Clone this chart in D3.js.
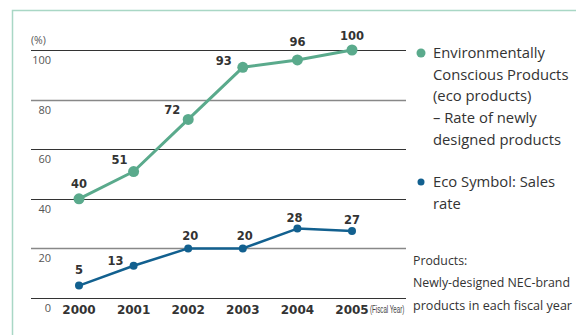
<!DOCTYPE html>
<html><head><meta charset="utf-8">
<script src="https://cdn.jsdelivr.net/npm/d3@7/dist/d3.min.js"></script>
<style>body{margin:0;background:#fff}svg{display:block}</style>
</head><body>
<svg id="c" width="576" height="335"></svg>
<script>
const years = ["2000","2001","2002","2003","2004","2005"];
const ecoProducts = [40,51,72,93,96,100];
const ecoSymbol = [5,13,20,20,28,27];
const yTicks = [0,20,40,60,80,100];
const legendEco = ["Environmentally","Conscious Products","(eco products)","\u2013 Rate of newly","designed products"];
const legendSym = ["Eco Symbol: Sales","rate"];
const footnote = ["Products:","Newly-designed NEC-brand","products in each fiscal year"];

const svg = d3.select("#c");
const green = "#5aaa8c", blue = "#12608f", txt = "#333";
const tickFont = "'Open Sans', sans-serif";
const boldFont = "'DejaVu Sans', sans-serif";

// frame
svg.append("path").attr("d","M12.5,335 V10.5 H576").attr("fill","none").attr("stroke","#a9d7c5").attr("stroke-width",1.5);

const x = d3.scalePoint().domain(years).range([79,352]);
const y = d3.scaleLinear().domain([0,100]).range([298,50]);

// gridlines
const gridColors = {0:"#333",20:"#888",40:"#333",60:"#333",80:"#888",100:"#333"};
svg.append("g").selectAll("line").data(yTicks).join("line")
  .attr("x1",31).attr("x2",406)
  .attr("y1",d=>Math.round(y(d))+0.5).attr("y2",d=>Math.round(y(d))+0.5)
  .attr("stroke",d=>gridColors[d]).attr("stroke-width",d=>(d===20||d===80)?1.5:1);

// y tick labels
svg.append("g").selectAll("text").data(yTicks).join("text")
  .attr("x",51).attr("y",d=>Math.round(y(d))+14)
  .attr("text-anchor","end").attr("font-family",tickFont).attr("font-size",11).attr("fill","#555")
  .text(d=>d);
svg.append("text").attr("x",31).attr("y",44).attr("font-family",tickFont).attr("font-size",10.5).attr("fill","#555").text("(%)");

// x labels
svg.append("g").selectAll("text").data(years).join("text")
  .attr("x",d=>x(d)).attr("y",314).attr("text-anchor","middle")
  .attr("font-family",boldFont).attr("font-weight","bold").attr("font-size",12).attr("fill",txt)
  .text(d=>d);
svg.append("text").attr("transform","translate(370,313) scale(0.62,1)").attr("font-family","'Liberation Sans', sans-serif")
  .attr("font-size",10).attr("fill","#444").text("(Fiscal Year)");

function series(vals,color,lw,r,offsets){
  const pts = years.map((yr,i)=>[x(yr),y(vals[i])]);
  svg.append("path").attr("d",d3.line()(pts)).attr("fill","none").attr("stroke",color).attr("stroke-width",lw).attr("stroke-linejoin","round");
  svg.append("g").selectAll("circle").data(pts).join("circle")
    .attr("cx",d=>d[0]).attr("cy",d=>d[1]).attr("r",r).attr("fill",color);
  svg.append("g").selectAll("text").data(vals).join("text")
    .attr("x",(d,i)=>pts[i][0]+offsets[i][0]).attr("y",(d,i)=>pts[i][1]+offsets[i][1])
    .attr("text-anchor","middle").attr("font-family",boldFont).attr("font-weight","bold").attr("font-size",11.5).attr("fill",txt)
    .text(d=>d);
}
series(ecoProducts,green,3,5.5,[[0,-11],[-14,-8],[-16,-5],[-19,-2],[0,-14],[0,-10]]);
series(ecoSymbol,blue,2.5,4,[[0,-12],[-18,-1],[2,-8],[2,-8],[-3,-7],[0,-7]]);

// legend
const legFont = "'Open Sans', sans-serif";
svg.append("circle").attr("cx",421).attr("cy",53).attr("r",4.5).attr("fill",green);
svg.append("g").selectAll("text").data(legendEco).join("text")
  .attr("x",433).attr("y",(d,i)=>58+i*21.7).attr("font-family",legFont).attr("font-size",14.8).attr("fill",txt).text(d=>d);
svg.append("circle").attr("cx",421).attr("cy",182).attr("r",3.5).attr("fill",blue);
svg.append("g").selectAll("text").data(legendSym).join("text")
  .attr("x",433).attr("y",(d,i)=>187+i*21.7).attr("font-family",legFont).attr("font-size",14.8).attr("fill",txt).text(d=>d);

const footLen = [null,157,159];
svg.append("g").selectAll("text").data(footnote).join("text")
  .attr("x",413).attr("y",(d,i)=>264.5+i*22.5).attr("font-family",legFont).attr("font-size",12.3).attr("fill",txt)
  .each(function(d,i){ if(footLen[i]) d3.select(this).attr("textLength",footLen[i]).attr("lengthAdjust","spacingAndGlyphs"); })
  .text(d=>d);
</script>
</body></html>
